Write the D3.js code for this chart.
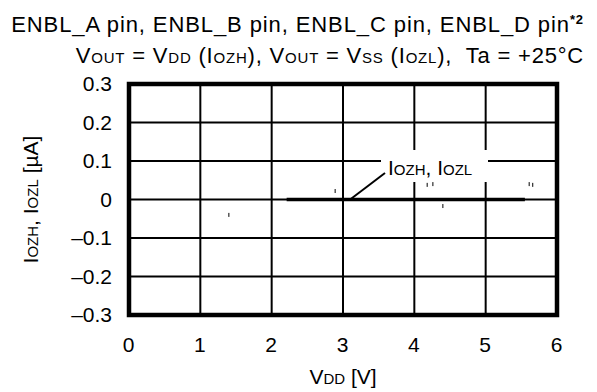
<!DOCTYPE html>
<html>
<head>
<meta charset="utf-8">
<script src="https://cdn.jsdelivr.net/npm/d3@7"></script>
<style>
  html, body { margin: 0; padding: 0; background: #fff; }
  svg { display: block; font-family: "Liberation Sans", Arial, sans-serif; }
</style>
</head>
<body>
<svg id="chart" width="597" height="392"></svg>
<script>
// Leakage current vs supply voltage
const xTicks = [0, 1, 2, 3, 4, 5, 6];
const yTicks = [0.3, 0.2, 0.1, 0, -0.1, -0.2, -0.3];
const yTickLabels = ["0.3", "0.2", "0.1", "0", "\u20130.1", "\u20130.2", "\u20130.3"];
// Measured IOZH / IOZL curve (VDD [V], current [µA])
const curveVdd = [2.21, 3.0, 4.0, 5.0, 5.55];
const curveI = [0, 0, 0, 0, 0];
// Isolated stray samples
const strayVdd = [1.40, 2.89, 4.18, 4.26, 4.40, 5.61, 5.66];
const strayI = [-0.040, 0.022, 0.038, 0.040, -0.017, 0.040, 0.038];

const svg = d3.select("#chart");
const pLeft = 129, pRight = 557, pTop = 84, pBottom = 315;

const x = d3.scaleLinear().domain([0, 6]).range([pLeft, pRight]);
const y = d3.scaleLinear().domain([-0.3, 0.3]).range([pBottom, pTop]);

// grid
const g = svg.append("g");
g.selectAll("line.v").data(xTicks.slice(1, -1)).join("line")
  .attr("x1", d => x(d)).attr("x2", d => x(d))
  .attr("y1", pTop).attr("y2", pBottom)
  .attr("stroke", "#000").attr("stroke-width", 2);
g.selectAll("line.h").data(yTicks.slice(1, -1)).join("line")
  .attr("x1", pLeft).attr("x2", pRight)
  .attr("y1", d => y(d)).attr("y2", d => y(d))
  .attr("stroke", "#000").attr("stroke-width", 2);

// stray samples
g.selectAll("line.s").data(strayVdd).join("line")
  .attr("x1", d => x(d)).attr("x2", d => x(d))
  .attr("y1", (d, i) => y(strayI[i]) - 2).attr("y2", (d, i) => y(strayI[i]) + 2)
  .attr("stroke", "#000").attr("stroke-width", 1);

// curve
const line = d3.line().x(d => x(d)).y((d, i) => y(curveI[i]));
g.append("path").datum(curveVdd).attr("d", line)
  .attr("fill", "none").attr("stroke", "#000").attr("stroke-width", 3.5);

// frame
svg.append("rect").attr("x", pLeft).attr("y", pTop)
  .attr("width", pRight - pLeft).attr("height", pBottom - pTop)
  .attr("fill", "none").attr("stroke", "#000").attr("stroke-width", 4.5);

// tick labels via axes (no tick lines)
const xAxis = d3.axisBottom(x).tickValues(xTicks).tickSize(0).tickPadding(0).tickFormat(d3.format("d"));
const xa = svg.append("g").attr("transform", `translate(-1, ${pBottom + 22})`).call(xAxis);
xa.select(".domain").remove();
xa.attr("font-family", null).attr("font-size", null);
xa.selectAll("text").attr("font-size", 21).attr("fill", "#000");

const yAxis = d3.axisLeft(y).tickValues(yTicks).tickSize(0).tickPadding(0)
  .tickFormat((d, i) => yTickLabels[i]);
const ya = svg.append("g").attr("transform", `translate(${pLeft - 17}, 0)`).call(yAxis);
ya.select(".domain").remove();
ya.attr("font-family", null).attr("font-size", null);
ya.selectAll("text").attr("font-size", 21).attr("fill", "#000");

// text with small-cap style subscripts and a bold superscript note mark
function rich(sel, parts, big, small) {
  parts.forEach(p => {
    const t = sel.append("tspan").text(p[0]);
    if (p[1] === "s") t.attr("font-size", small);
    else if (p[1] === "sup") t.attr("font-size", small).attr("font-weight", "bold").attr("dy", -8);
    else t.attr("font-size", big);
  });
}

// annotation
svg.append("rect").attr("x", 381).attr("y", 150).attr("width", 107).attr("height", 32).attr("fill", "#fff");
svg.append("line").attr("x1", x(3.1)).attr("y1", y(0)).attr("x2", 385).attr("y2", 173)
  .attr("stroke", "#000").attr("stroke-width", 2);
const ann = svg.append("text").attr("x", 388).attr("y", 175);
rich(ann, [["I"], ["OZH", "s"], [", I"], ["OZL", "s"]], 21, 15);

// titles
const t1 = svg.append("text").attr("x", 584).attr("y", 32).attr("text-anchor", "end")
  .attr("letter-spacing", 0.9);
rich(t1, [["ENBL_A pin, ENBL_B pin, ENBL_C pin, ENBL_D pin"], ["*2", "sup"]], 22, 13);
const t2 = svg.append("text").attr("x", 584).attr("y", 63).attr("text-anchor", "end")
  .attr("letter-spacing", 0.8);
rich(t2, [["V"], ["OUT", "s"], [" = V"], ["DD", "s"], [" (I"], ["OZH", "s"], ["), V"], ["OUT", "s"],
          [" = V"], ["SS", "s"], [" (I"], ["OZL", "s"], ["),\u00a0 Ta = +25°C"]], 22, 15);

const xt = svg.append("text").attr("x", x(3)).attr("y", 384).attr("text-anchor", "middle");
rich(xt, [["V"], ["DD", "s"], [" [V]"]], 21, 15);

const yt = svg.append("text").attr("transform", `translate(38, ${y(0)}) rotate(-90)`).attr("text-anchor", "middle");
rich(yt, [["I"], ["OZH", "s"], [", I"], ["OZL", "s"], [" [µA]"]], 21, 15);
</script>
</body>
</html>
